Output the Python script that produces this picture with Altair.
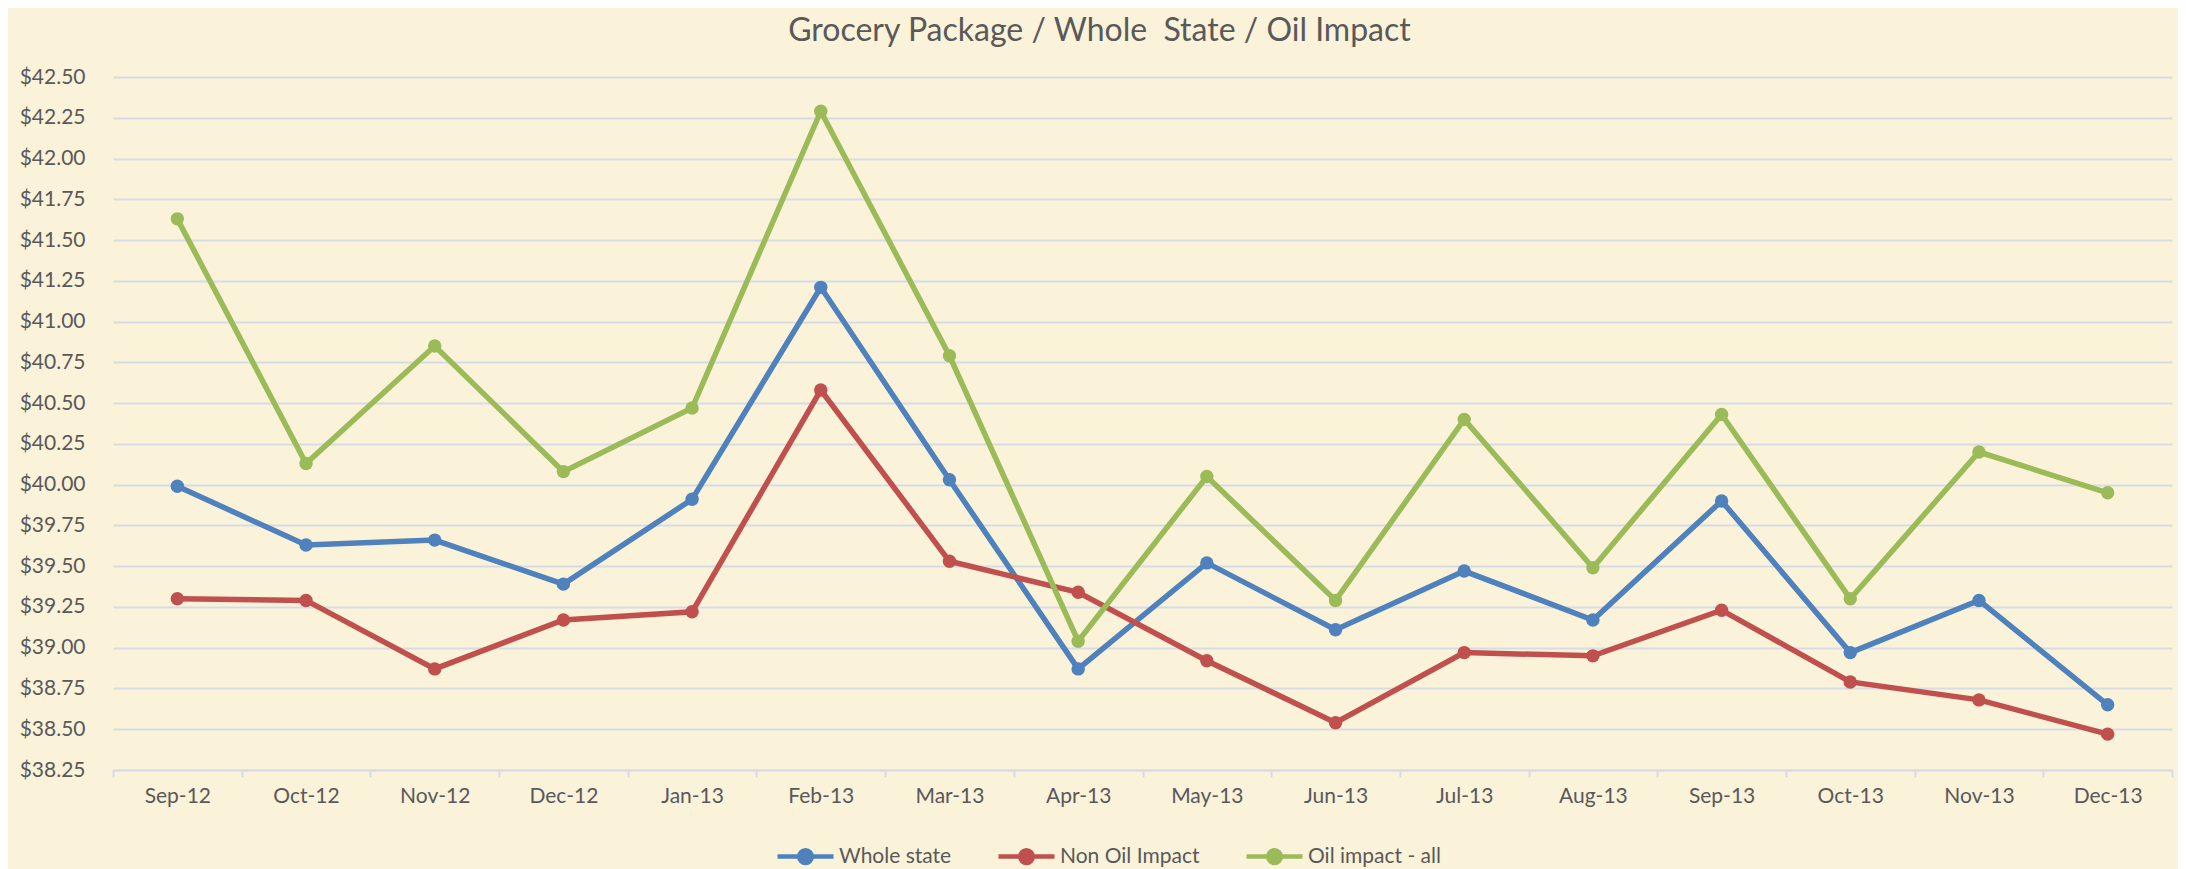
import altair as alt
import pandas as pd

months = ["Sep-12", "Oct-12", "Nov-12", "Dec-12", "Jan-13", "Feb-13", "Mar-13", "Apr-13",
          "May-13", "Jun-13", "Jul-13", "Aug-13", "Sep-13", "Oct-13", "Nov-13", "Dec-13"]
whole_state = [39.99, 39.63, 39.66, 39.39, 39.91, 41.21, 40.03, 38.87,
               39.52, 39.11, 39.47, 39.17, 39.90, 38.97, 39.29, 38.65]
non_oil_impact = [39.30, 39.29, 38.87, 39.17, 39.22, 40.58, 39.53, 39.34,
                  38.92, 38.54, 38.97, 38.95, 39.23, 38.79, 38.68, 38.47]
oil_impact_all = [41.63, 40.13, 40.85, 40.08, 40.47, 42.29, 40.79, 39.04,
                  40.05, 39.29, 40.40, 39.49, 40.43, 39.30, 40.20, 39.95]
series_names = ["Whole state", "Non Oil Impact", "Oil impact - all"]
series_colors = ["#4F81BD", "#C0504D", "#9BBB59"]
y_tick_values = [38.25, 38.50, 38.75, 39.00, 39.25, 39.50, 39.75, 40.00, 40.25,
                 40.50, 40.75, 41.00, 41.25, 41.50, 41.75, 42.00, 42.25, 42.50]

rows = []
for name, vals in zip(series_names, [whole_state, non_oil_impact, oil_impact_all]):
    for m, v in zip(months, vals):
        rows.append({"month": m, "series": name, "value": v})
df = pd.DataFrame(rows)

FONT = "Lato"
TXT = "#595959"
GRID = "#D6DCE5"
BG = "#FBF2DA"

sym_path = "M-1,0L1,0M0.225,0A0.225,0.225,0,1,1,-0.225,0A0.225,0.225,0,1,1,0.225,0Z"
color_expr = "scale('color', datum.value)"

chart = alt.Chart(df).mark_line(
    strokeWidth=5.5,
    point=alt.OverlayMarkDef(filled=True, size=180, opacity=1),
).encode(
    x=alt.X("month:N", sort=months, bandPosition=0.5,
            scale=alt.Scale(type="band", paddingInner=0, paddingOuter=0),
            axis=alt.Axis(title=None, labelAngle=0, tickBand="extent",
                          domainColor=GRID, domainWidth=2, tickColor=GRID,
                          tickWidth=2, tickSize=7, labelPadding=8,
                          labelFont=FONT, labelFontSize=21, labelColor=TXT,
                          grid=False)),
    y=alt.Y("value:Q",
            scale=alt.Scale(domain=[38.25, 42.5], nice=False, zero=False),
            axis=alt.Axis(title=None, values=y_tick_values, format="$.2f",
                          domain=False, ticks=False, labelPadding=28,
                          labelFont=FONT, labelFontSize=21, labelColor=TXT,
                          grid=True, gridColor=GRID, gridWidth=2)),
    color=alt.Color("series:N", sort=series_names,
                    scale=alt.Scale(domain=series_names, range=series_colors),
                    legend=alt.Legend(
                        title=None, orient="none", direction="horizontal",
                        legendX=662, legendY=749, padding=0,
                        symbolType=sym_path, symbolSize=3136,
                        symbolStrokeWidth=4.5, labelOffset=3,
                        columnPadding=37, labelFont=FONT, labelFontSize=21,
                        labelColor=TXT, symbolOpacity=1,
                        symbolFillColor=alt.ExprRef(expr=color_expr))),
).properties(
    width=2059,
    height=693,
    title=alt.Title("Grocery Package / Whole\u00a0 State / Oil Impact",
                    font=FONT, fontSize=32, fontWeight="normal", color=TXT,
                    anchor="middle", offset=18, dx=-43),
    background=BG,
    autosize=alt.AutoSizeParams(type="none"),
    padding={"left": 105, "top": 69, "right": 6, "bottom": 104},
).configure_view(stroke=None)

chart.save("out.html", embed_options={"renderer": "svg", "actions": False})
